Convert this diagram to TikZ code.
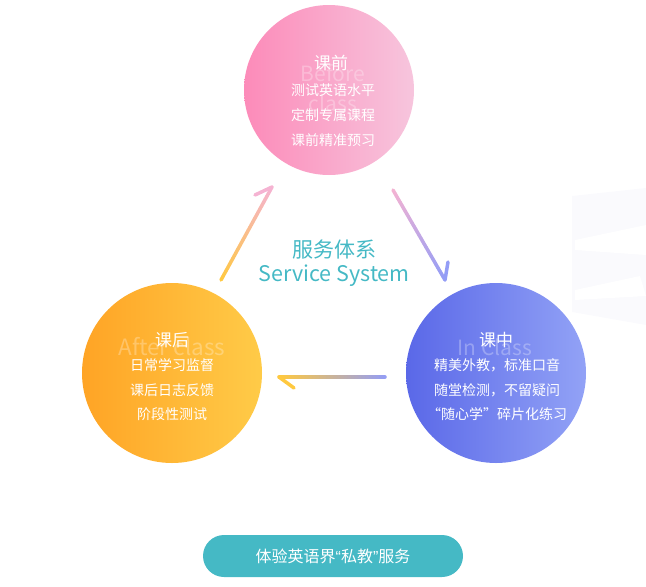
\documentclass[tikz,border=0pt]{standalone}
\usepackage{fontspec}
\setmainfont{Noto Sans CJK SC}
\newfontfamily\latinq{Liberation Sans}
\usetikzlibrary{calc}
\definecolor{pinkL}{HTML}{FC8BB9}
\definecolor{pinkR}{HTML}{F7C5DD}
\definecolor{orgL}{HTML}{FFA425}
\definecolor{orgR}{HTML}{FFCB48}
\definecolor{bluL}{HTML}{5A68E8}
\definecolor{bluR}{HTML}{92A2F6}
\definecolor{teal}{HTML}{45B9C5}
\definecolor{arrY}{HTML}{FFC940}
\definecolor{arrP}{HTML}{F5B3D2}
\definecolor{arrB}{HTML}{939DF6}
\definecolor{faint}{HTML}{FAFAFD}
\tikzset{
  phase/.style={circle, draw=none, minimum size=#1, inner sep=0pt},
  title/.style={text=white, font=\fontsize{17}{17}\selectfont},
  item/.style={text=white, font=\fontsize{14}{14}\selectfont},
  ghost/.style={text=white, text opacity=0.28, font=\fontsize{21}{21}\selectfont},
  arr/.style={line width=3.5pt, line cap=round},
}
\newcommand{\gradline}[4]{%
  \foreach \i in {0,...,29}{%
    \pgfmathsetmacro{\pa}{\i/30}\pgfmathsetmacro{\pb}{(\i+1)/30}\pgfmathsetmacro{\pc}{100-100*(\i+0.5)/30}%
    \draw[line width=3.5pt, line cap=round, color=#3!\pc!#4] ($(#1)!\pa!(#2)$) -- ($(#1)!\pb!(#2)$);
  }%
}
\begin{document}
\begin{tikzpicture}[x=1pt,y=-1pt]
\useasboundingbox (0,0) rectangle (646,587);
% faint background shape
\fill[faint] (572,196) -- (646,188) -- (646,325) -- (572,312) -- cycle;
\fill[white] (575,240) -- (646,225) -- (646,255) -- (575,250) -- cycle;
\fill[white] (575,290) -- (640,276) -- (646,296) -- (575,300) -- cycle;
% circles
\node[phase=170pt, left color=pinkL, right color=pinkR] (before) at (329,90) {};
\node[phase=180pt, left color=orgL, right color=orgR] (after) at (172,373) {};
\node[phase=180pt, left color=bluL, right color=bluR] (in) at (496,373) {};
% before
\node[ghost] (bg1) at (333,73) {Before};
\node[ghost] (bg2) at (333,103) {class};
\node[title] (bt) at (331,63) {课前};
\node[item] (b1) at (333,90) {测试英语水平};
\node[item] (b2) at (333,115) {定制专属课程};
\node[item] (b3) at (333,140) {课前精准预习};
% after
\node[ghost, font=\fontsize{22.5}{22.5}\selectfont] (ag) at (172,347) {After class};
\node[title] (at) at (172,340) {课后};
\node[item] (a1) at (172,365) {日常学习监督};
\node[item] (a2) at (172,390) {课后日志反馈};
\node[item] (a3) at (172,414) {阶段性测试};
% in class
\node[ghost] (ig) at (495,347) {In Class};
\node[title] (it) at (496,340) {课中};
\node[item] (i1) at (497,365) {精美外教，标准口音};
\node[item] (i2) at (497,390) {随堂检测，不留疑问};
\node[item] (i3) at (497,414) {“随心学”碎片化练习};
% center
\node[text=teal, font=\fontsize{21}{21}\selectfont] (c1) at (334,250) {服务体系};
\node[text=teal, font=\fontsize{21.5}{21.5}\selectfont] (c2) at (334,276) {Service System};
% arrows
\coordinate (l0) at (221,280); \coordinate (l1) at (272,187); \coordinate (lb) at (255,195);
\coordinate (r0) at (393,190); \coordinate (r1) at (445,280); \coordinate (rb) at (448,262);
\coordinate (d0) at (385,377); \coordinate (d1) at (279,377); \coordinate (db) at (294,388);
\gradline{l0}{l1}{arrY}{arrP}
\draw[arr, arrP] (l1) -- (lb);
\gradline{r0}{r1}{arrP}{arrB}
\draw[arr, arrB] (r1) -- (rb);
\gradline{d0}{d1}{arrB}{arrY}
\draw[arr, arrY] (d1) -- (db);
% button
\node[fill=teal, rounded corners=21pt, minimum width=260pt, minimum height=42pt, text=white, font=\fontsize{16}{16}\selectfont] (btn) at (333,556) {体验英语界{\latinq “}私教{\latinq ”}服务};
\end{tikzpicture}
\end{document}
